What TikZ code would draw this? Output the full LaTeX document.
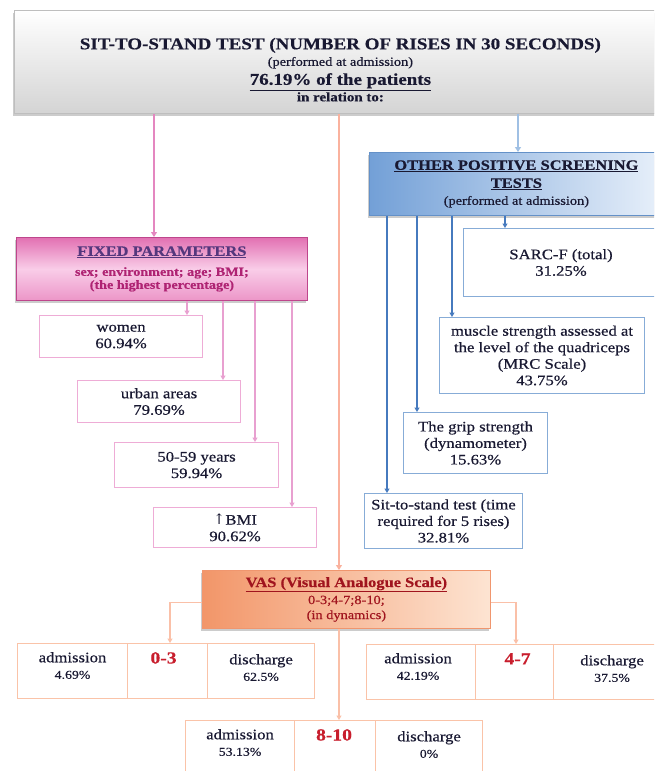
\documentclass[tikz,border=0pt]{standalone}
\usepackage{fontspec}
\setmainfont{Liberation Serif}[FakeStretch=1.15,FakeBold=0.5]
\newfontfamily\arrowfont{DejaVu Serif}
\usetikzlibrary{arrows.meta,shadows}

\definecolor{inkblue}{RGB}{25,25,50}
\definecolor{topedge}{RGB}{190,190,190}
\definecolor{topgrey}{RGB}{212,212,212}
\definecolor{fixedge}{RGB}{190,70,140}
\definecolor{fixdark}{RGB}{226,112,178}
\definecolor{fixlight}{RGB}{249,205,232}
\definecolor{fixmid}{RGB}{236,150,200}
\definecolor{testedge}{RGB}{100,145,200}
\definecolor{testdark}{RGB}{115,160,215}
\definecolor{testlight}{RGB}{232,240,250}
\definecolor{vasedge}{RGB}{240,150,110}
\definecolor{vasdark}{RGB}{242,150,105}
\definecolor{vaslight}{RGB}{253,228,210}
\definecolor{pinkedge}{RGB}{238,172,214}
\definecolor{blueedge}{RGB}{135,172,215}
\definecolor{celledge}{RGB}{250,195,168}
\definecolor{pinkline}{RGB}{228,135,192}
\definecolor{orangeline}{RGB}{250,178,158}
\definecolor{blueline}{RGB}{160,192,228}
\definecolor{pinktip}{RGB}{232,160,208}
\definecolor{bluetip}{RGB}{70,122,190}
\definecolor{orangetip}{RGB}{250,192,168}
\definecolor{headviolet}{RGB}{85,55,125}
\definecolor{magtext}{RGB}{175,35,115}
\definecolor{vasred}{RGB}{160,20,30}
\definecolor{rangered}{RGB}{200,30,45}

\newcommand{\valfont}{\fontsize{12}{13}\selectfont}

\begin{document}
\begin{tikzpicture}[x=1pt, y=-1pt,
    font=\fontsize{14.5}{16.5}\selectfont,
    text=inkblue]
    % styles of boxes and connectors
    \tikzset{mainbox/.style={draw,line width=.8pt,anchor=north west,align=center,inner sep=2pt,
        drop shadow={shadow xshift=-1.5pt,shadow yshift=-2.5pt,opacity=.4}},
      topbox/.style={mainbox,draw=topedge,top color=white,bottom color=topgrey},
      fixbox/.style={mainbox,draw=fixedge,top color=fixdark,bottom color=fixmid,middle color=fixlight},
      testbox/.style={mainbox,draw=testedge,left color=testdark,right color=testlight},
      vasbox/.style={mainbox,draw=vasedge,left color=vasdark,right color=vaslight},
      pinkitem/.style={draw=pinkedge,line width=1.1pt,anchor=north west,align=center,fill=white},
      blueitem/.style={draw=blueedge,line width=1pt,anchor=north west,align=center,fill=white},
      cell/.style={draw=celledge,line width=1.1pt,anchor=north west,minimum height=55pt},
      celltext/.style={anchor=north,align=center,inner sep=3pt,yshift=-6pt},
      rangetext/.style={celltext,text=rangered,font=\fontsize{17}{18}\bfseries},
      pinkmain/.style={draw=pinkline,line width=2.8pt,-{Triangle[length=5pt,width=6pt]}},
      orangemain/.style={draw=orangeline,line width=2.8pt,-{Triangle[length=5pt,width=6pt]}},
      bluemain/.style={draw=blueline,line width=2.8pt,-{Triangle[length=5pt,width=6pt]}},
      pinkarrow/.style={draw=pinktip,line width=1.2pt,-{Triangle[length=4.5pt,width=5pt]}},
      bluearrow/.style={draw=bluetip,line width=1.2pt,-{Triangle[length=4.5pt,width=5pt]}},
      orangearrow/.style={draw=orangetip,line width=1.4pt,-{Triangle[length=4.5pt,width=5pt]}}}
    \clip (0,0) rectangle (654,771);
    % box "top"
    \node[topbox,minimum width=652pt,minimum height=103pt] (top) at (14,10)
    {\rule{0pt}{27pt}{\fontsize{16.5}{17}\bfseries SIT-TO-STAND TEST (NUMBER OF RISES IN 30 SECONDS)}\\
      {\fontsize{12.5}{14}\selectfont (performed at admission)}\\[2.5pt]
      {\fontsize{16.5}{17}\bfseries\underline{76.19\% of the patients}}\\
      {\fontsize{13}{14}\bfseries in relation to:}};
    % box "fixed parameters"
    \node[fixbox,minimum width=291pt,minimum height=63pt,text=headviolet] (fixed) at (16,237)
    {{\fontsize{14.3}{16}\bfseries\underline{FIXED PARAMETERS}}\\[3.5pt]
      {\fontsize{12.3}{13}\bfseries\color{magtext}sex; environment; age; BMI;}\\[-3.5pt]
      {\fontsize{12.3}{13}\bfseries\color{magtext}(the highest percentage)}};
    % box "other tests"
    \node[testbox,minimum width=294pt,minimum height=63pt] (other) at (369,152)
    {{\fontsize{14.3}{16}\bfseries\underline{OTHER POSITIVE SCREENING}}\\[1.5pt]
      {\fontsize{14.3}{16}\bfseries\underline{TESTS}}\\[.5pt]
      {\fontsize{12.5}{14}\selectfont (performed at admission)}};
    % box "vas"
    \node[vasbox,minimum width=288pt,minimum height=58pt,text=vasred] (vas) at (202,570)
    {{\fontsize{14.3}{16}\bfseries\underline{VAS (Visual Analogue Scale)}}\\[.5pt]
      {\fontsize{12.5}{14}\selectfont 0-3;4-7;8-10;}\\[-1.5pt]
      {\fontsize{12.5}{14}\selectfont (in dynamics)}};
    % fixed parameters
    \node[pinkitem,minimum width=163pt,minimum height=42pt] (women) at (39,315) {women\\60.94\%};
    \node[pinkitem,minimum width=163pt,minimum height=42pt] (urban) at (77,380) {urban areas\\79.69\%};
    \node[pinkitem,minimum width=164pt,minimum height=45pt] (age) at (114,442) {50-59 years\\59.94\%};
    \node[pinkitem,minimum width=163pt,minimum height=40pt] (bmi) at (153,507) {{\arrowfont ↑}BMI\\90.62\%};
    % other tests
    \node[blueitem,minimum width=195pt,minimum height=68pt] (sarcf) at (463,228) {SARC-F (total)\\31.25\%};
    \node[blueitem,minimum width=205pt,minimum height=76pt] (muscle) at (439,317)
    {muscle strength assessed at\\the level of the quadriceps\\(MRC Scale)\\43.75\%};
    \node[blueitem,minimum width=144pt,minimum height=61pt] (grip) at (403,412)
    {The grip strength\\(dynamometer)\\15.63\%};
    \node[blueitem,minimum width=158pt,minimum height=55pt] (sitstand) at (364,493)
    {Sit-to-stand test (time\\required for 5 rises)\\32.81\%};
    % table "0-3"
    \node[cell,minimum width=110pt] (lowadm) at (17,643) {};
    \node[cell,minimum width=80pt] (lowrange) at (127,643) {};
    \node[cell,minimum width=107pt] (lowdis) at (207,643) {};
    \node[celltext] (lowadmtext) at (lowadm.north) {admission\\{\valfont 4.69\%}};
    \node[rangetext] (lowrangetext) at ([xshift=-4pt]lowrange.north) {0-3};
    \node[celltext] (lowdistext) at ([yshift=-2pt]lowdis.north) {discharge\\{\valfont 62.5\%}};
    % table "4-7"
    \node[cell,minimum width=109pt] (midadm) at (366,644) {};
    \node[cell,minimum width=78pt] (midrange) at (475,644) {};
    \node[cell,minimum width=107pt] (middis) at (553,644) {};
    \node[celltext] (midadmtext) at ([xshift=-3pt]midadm.north) {admission\\{\valfont 42.19\%}};
    \node[rangetext] (midrangetext) at ([xshift=3pt]midrange.north) {4-7};
    \node[celltext] (middistext) at ([xshift=5pt,yshift=-2pt]middis.north) {discharge\\{\valfont 37.5\%}};
    % table "8-10"
    \node[cell,minimum width=109pt,minimum height=60pt] (highadm) at (185,720) {};
    \node[cell,minimum width=81pt,minimum height=60pt] (highrange) at (294,720) {};
    \node[cell,minimum width=107pt,minimum height=60pt] (highdis) at (375,720) {};
    \node[celltext] (highadmtext) at (highadm.north) {admission\\{\valfont 53.13\%}};
    \node[rangetext] (highrangetext) at ([xshift=-1pt]highrange.north) {8-10};
    \node[celltext] (highdistext) at ([yshift=-2pt]highdis.north) {discharge\\{\valfont 0\%}};
    % x of the connectors
    \coordinate (px) at (154,0);
    \coordinate (ox) at (339,0);
    \coordinate (bx) at (518,0);
    \coordinate (p1) at (187,0);
    \coordinate (p2) at (223,0);
    \coordinate (p3) at (255,0);
    \coordinate (p4) at (292,0);
    \coordinate (b1) at (505,0);
    \coordinate (b2) at (452,0);
    \coordinate (b3) at (417,0);
    \coordinate (b4) at (387,0);
    \coordinate (lx) at (170,0);
    \coordinate (rx) at (516,0);
    % connectors from the top box
    \draw[pinkmain] (top.south -| px) -- (fixed.north -| px);
    \draw[orangemain] (top.south -| ox) -- (vas.north -| ox);
    \draw[bluemain] (top.south -| bx) -- (other.north -| bx);
    % connectors of the fixed parameters
    \draw[pinkarrow] (fixed.south -| p1) -- (women.north -| p1);
    \draw[pinkarrow] (fixed.south -| p2) -- (urban.north -| p2);
    \draw[pinkarrow] (fixed.south -| p3) -- (age.north -| p3);
    \draw[pinkarrow] (fixed.south -| p4) -- (bmi.north -| p4);
    % connectors of the other tests
    \draw[bluearrow] (other.south -| b1) -- (sarcf.north -| b1);
    \draw[bluearrow] (other.south -| b2) -- (muscle.north -| b2);
    \draw[bluearrow] (other.south -| b3) -- (grip.north -| b3);
    \draw[bluearrow] (other.south -| b4) -- (sitstand.north -| b4);
    % connectors of the vas
    \draw[orangearrow] ([yshift=-3pt]vas.west) -| (lx |- lowrange.north);
    \draw[orangearrow] ([yshift=-3pt]vas.east) -| (rx |- midrange.north);
    \draw[orangearrow] (vas.south -| ox) -- (ox |- highrange.north);
  \end{tikzpicture}
\end{document}
